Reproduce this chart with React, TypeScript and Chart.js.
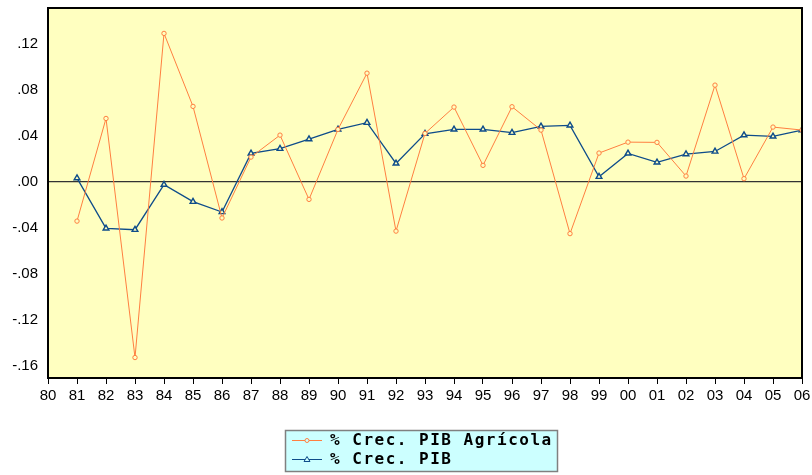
import React, { useEffect, useRef } from "react";
import { Chart, registerables } from "chart.js";

Chart.register(...registerables);

const years = [1981, 1982, 1983, 1984, 1985, 1986, 1987, 1988, 1989, 1990, 1991, 1992, 1993, 1994, 1995, 1996, 1997, 1998, 1999, 2000, 2001, 2002, 2003, 2004, 2005, 2006];

const pibAgricola = [-0.0343, 0.055, -0.153, 0.129, 0.0655, -0.0316, 0.0214, 0.0405, -0.0154, 0.0455, 0.0944, -0.043, 0.042, 0.0649, 0.0142, 0.0652, 0.0449, -0.0452, 0.0249, 0.0344, 0.0342, 0.0049, 0.084, 0.0026, 0.0475, 0.0449];

const pib = [0.0031, -0.0406, -0.0418, -0.0026, -0.0174, -0.0264, 0.0246, 0.0287, 0.037, 0.0455, 0.0513, 0.0159, 0.0417, 0.0455, 0.0455, 0.0426, 0.0481, 0.049, 0.0043, 0.0246, 0.0168, 0.024, 0.0263, 0.0405, 0.0394, 0.0449];

const yTicks = [-0.16, -0.12, -0.08, -0.04, 0, 0.04, 0.08, 0.12];

const seriesLabels = ["% Crec. PIB Agrícola", "% Crec. PIB"];

const ORANGE = "#FF7F40";
const BLUE = "#0E4C8A";
const PLOT_BG = "#FFFFC0";

const bgPlugin = {
  id: "plotBg",
  beforeDraw(chart: any) {
    const { ctx, chartArea } = chart;
    ctx.save();
    ctx.fillStyle = "#ffffff";
    ctx.fillRect(0, 0, chart.width, chart.height);
    ctx.fillStyle = PLOT_BG;
    ctx.fillRect(chartArea.left, chartArea.top, chartArea.right - chartArea.left, chartArea.bottom - chartArea.top);
    ctx.restore();
  },
};

const framePlugin = {
  id: "frame",
  afterDraw(chart: any) {
    const { ctx, chartArea } = chart;
    ctx.save();
    ctx.strokeStyle = "#000";
    ctx.lineWidth = 2;
    ctx.strokeRect(chartArea.left, chartArea.top, chartArea.right - chartArea.left, chartArea.bottom - chartArea.top);

    // legend
    const lx = 285, ly = 430, lw = 273, lh = 42;
    ctx.fillStyle = "#CCFFFF";
    ctx.fillRect(lx, ly, lw, lh);
    ctx.strokeStyle = "#808080";
    ctx.lineWidth = 1.5;
    ctx.strokeRect(lx + 0.5, ly + 0.5, lw - 1, lh - 1);
    const rows = [
      { label: seriesLabels[0], color: ORANGE, style: "circle", y: 440 },
      { label: seriesLabels[1], color: BLUE, style: "triangle", y: 459 },
    ];
    rows.forEach((r) => {
      ctx.strokeStyle = r.color;
      ctx.lineWidth = 1;
      ctx.beginPath();
      ctx.moveTo(292, r.y + 0.5);
      ctx.lineTo(322, r.y + 0.5);
      ctx.stroke();
      ctx.fillStyle = "#CCFFFF";
      ctx.beginPath();
      if (r.style === "circle") {
        ctx.arc(307, r.y + 0.5, 2, 0, Math.PI * 2);
      } else {
        ctx.moveTo(307, r.y - 2.5);
        ctx.lineTo(310, r.y + 2.5);
        ctx.lineTo(304, r.y + 2.5);
        ctx.closePath();
      }
      ctx.fill();
      ctx.stroke();
      ctx.fillStyle = "#000";
      ctx.font = "bold 16px 'DejaVu Sans Mono'";
      (ctx as any).letterSpacing = "1.5px";
      ctx.textBaseline = "middle";
      ctx.textAlign = "left";
      ctx.fillText(r.label, 330, r.y + 1);
    });
    ctx.restore();
  },
};

export default function App() {
  const ref = useRef<HTMLCanvasElement | null>(null);
  useEffect(() => {
    if (!ref.current) return;
    const chart = new Chart(ref.current, {
      type: "line",
      data: {
        datasets: [
          {
            label: seriesLabels[0],
            data: years.map((x, i) => ({ x, y: pibAgricola[i] })),
            borderColor: ORANGE,
            backgroundColor: PLOT_BG,
            borderWidth: 1,
            pointStyle: "circle",
            pointRadius: 2.2,
            pointBorderWidth: 1,
            pointBorderColor: ORANGE,
            pointBackgroundColor: PLOT_BG,
            tension: 0,
          },
          {
            label: seriesLabels[1],
            data: years.map((x, i) => ({ x, y: pib[i] })),
            borderColor: BLUE,
            backgroundColor: PLOT_BG,
            borderWidth: 1.3,
            pointStyle: "triangle",
            pointRadius: 3.3,
            pointBorderWidth: 1.4,
            pointBorderColor: BLUE,
            pointBackgroundColor: PLOT_BG,
            tension: 0,
          },
        ],
      },
      options: {
        responsive: false,
        animation: false,
        devicePixelRatio: 1,
        layout: { padding: { top: 8, right: 10, left: 0, bottom: 0 } },
        plugins: {
          legend: { display: false },
          tooltip: { enabled: false },
        },
        scales: {
          x: {
            type: "linear",
            min: 1980,
            max: 2006,
            border: { display: false },
            grid: {
              display: true,
              drawOnChartArea: false,
              drawTicks: true,
              tickLength: 6,
              color: "#000",
              lineWidth: 1,
            },
            ticks: {
              stepSize: 1,
              autoSkip: false,
              maxRotation: 0,
              padding: 3,
              color: "#000",
              font: { family: "'Liberation Sans', Arial, sans-serif", size: 15 },
              callback: (v: any) => String(Number(v) % 100).padStart(2, "0"),
            },
            afterFit: (s: any) => {
              s.height = 97;
              s.paddingLeft = 0;
              s.paddingRight = 0;
            },
          },
          y: {
            min: -0.1708,
            max: 0.1511,
            border: { display: false },
            afterBuildTicks: (s: any) => {
              s.ticks = yTicks.map((v) => ({ value: v }));
            },
            grid: {
              drawTicks: false,
              color: (c: any) => (c.tick && Math.abs(c.tick.value) < 1e-9 ? "#333333" : "rgba(0,0,0,0)"),
              lineWidth: 1.2,
            },
            ticks: {
              padding: 10,
              color: "#000",
              font: { family: "'Liberation Sans', Arial, sans-serif", size: 15 },
              callback: (v: any) => Number(v).toFixed(2).replace("0.", "."),
            },
            afterFit: (s: any) => {
              s.width = 48;
              s.paddingTop = 0;
              s.paddingBottom = 0;
            },
          },
        },
      },
      plugins: [bgPlugin, framePlugin],
    });
    return () => chart.destroy();
  }, []);
  return (
    <div style={{ position: "fixed", left: 0, top: 0, width: 812, height: 475, background: "#fff" }}>
      <canvas ref={ref} width={812} height={475} />
    </div>
  );
}
